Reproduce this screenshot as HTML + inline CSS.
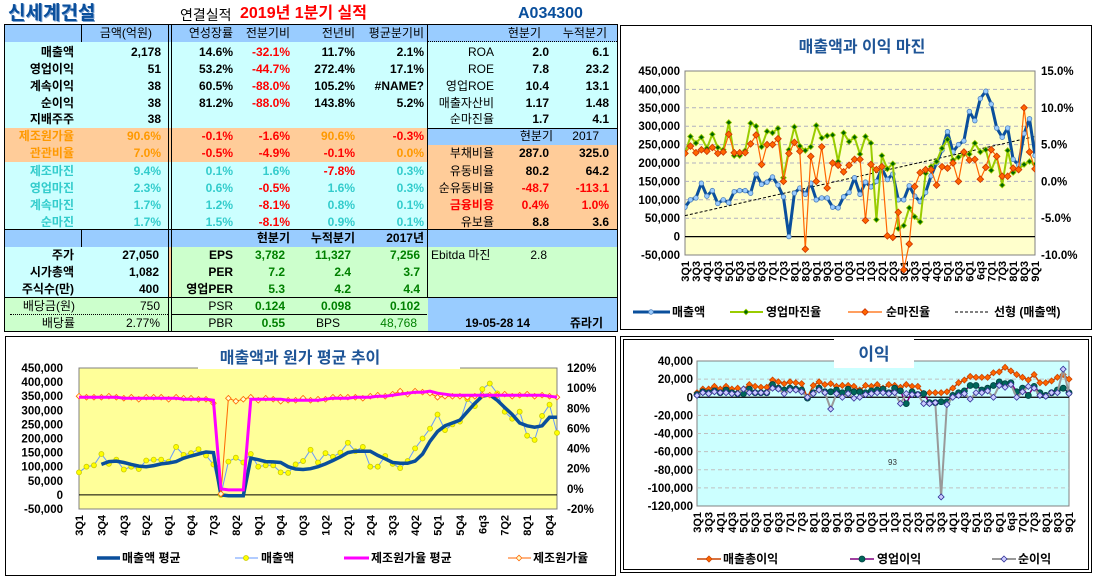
<!DOCTYPE html>
<html><head><meta charset="utf-8">
<style>
body{margin:0;width:1094px;height:576px;overflow:hidden;background:#fff;position:relative;font-family:"Liberation Sans","Noto Sans CJK KR",sans-serif}
.bg{position:absolute}
.t{position:absolute;font-weight:bold;font-size:12px;line-height:14px;white-space:nowrap;color:#000}
.r{text-align:right}
.red{color:#ff0000}.or{color:#ff9900}.tl{color:#33cccc}.gr{color:#008000}.nb{font-weight:normal}
svg text{font-family:"Liberation Sans","Noto Sans CJK KR",sans-serif}
</style></head><body>
<div id="table">
<div class="bg" style="left:4px;top:25px;width:614px;height:17px;background:#99ccff"></div>
<div class="bg" style="left:4px;top:42px;width:614px;height:86px;background:#ccffff"></div>
<div class="bg" style="left:4px;top:128px;width:424px;height:34px;background:#ffcc99"></div>
<div class="bg" style="left:428px;top:128px;width:190px;height:17px;background:#99ccff"></div>
<div class="bg" style="left:428px;top:145px;width:190px;height:85px;background:#ffcc99"></div>
<div class="bg" style="left:4px;top:162px;width:424px;height:68px;background:#ccffff"></div>
<div class="bg" style="left:4px;top:230px;width:614px;height:17px;background:#99ccff"></div>
<div class="bg" style="left:4px;top:247px;width:165px;height:51px;background:#ccffff"></div>
<div class="bg" style="left:169px;top:247px;width:3px;height:51px;background:#ffcc99"></div>
<div class="bg" style="left:172px;top:247px;width:446px;height:51px;background:#ccffcc"></div>
<div class="bg" style="left:4px;top:298px;width:424px;height:34px;background:#ccffcc"></div>
<div class="bg" style="left:428px;top:298px;width:190px;height:34px;background:#99ccff"></div>
<div class="bg" style="left:4px;top:24px;width:614px;height:1px;background:#000"></div>
<div class="bg" style="left:4px;top:24px;width:1px;height:308px;background:#000"></div>
<div class="bg" style="left:617px;top:24px;width:1px;height:308px;background:#000"></div>
<div class="bg" style="left:4px;top:331px;width:614px;height:1px;background:#000"></div>
<div class="bg" style="left:81px;top:25px;width:1px;height:17px;background:#000"></div>
<div class="bg" style="left:81px;top:230px;width:1px;height:17px;background:#000"></div>
<div class="bg" style="left:168px;top:25px;width:1px;height:306px;background:#000"></div>
<div class="bg" style="left:171px;top:25px;width:1px;height:306px;background:#000"></div>
<div class="bg" style="left:427px;top:25px;width:1px;height:273px;background:#000"></div>
<div class="bg" style="left:428px;top:41px;width:189px;height:0;border-top:1px dotted #000"></div>
<div class="bg" style="left:428px;top:128px;width:189px;height:1px;background:#000"></div>
<div class="bg" style="left:4px;top:229px;width:614px;height:1px;background:#000"></div>
<div class="bg" style="left:4px;top:297px;width:614px;height:1px;background:#000"></div>
<div class="bg" style="left:10px;top:314px;width:158px;height:0;border-top:1px dotted #000"></div>
<div class="bg" style="left:172px;top:314px;width:255px;height:1px;background:#000"></div>

<div class="t" style="left:8px;top:3px;font-size:19px;line-height:22px;color:#0a4f9c;text-shadow:1px 1px 0 #7aa0d0">신세계건설</div>
<div class="t nb" style="left:180px;top:7px;font-size:14px;line-height:16px">연결실적</div>
<div class="t red" style="left:240px;top:5px;font-size:16px;line-height:18px">2019년 1분기 실적</div>
<div class="t" style="left:518px;top:5px;font-size:16px;line-height:18px;color:#0a4f9c">A034300</div>

<div id="cells"></div>
</div>

<svg id="c1" style="position:absolute;left:620px;top:25px" width="474" height="306"></svg>
<svg id="c2" style="position:absolute;left:0;top:335px" width="618" height="241"></svg>
<svg id="c3" style="position:absolute;left:618px;top:335px" width="476" height="241"></svg>

<script>
const rowsY=[33,52,69,86,103,119,136,153,171,188,205,222,238,255,272,289,306,323];
const cellsDef=[
[0,152,'금액(억원)','nb'],[0,233,'연성장률','nb'],[0,290,'전분기비','nb'],[0,355,'전년비','nb'],[0,424,'평균분기비','nb'],[0,541,'현분기','nb'],[0,607,'누적분기','nb'],
[1,74,'매출액',''],[1,161,'2,178',''],[1,233,'14.6%',''],[1,290,'-32.1%','red'],[1,355,'11.7%',''],[1,424,'2.1%',''],[1,494,'ROA','nb'],[1,549,'2.0',''],[1,609,'6.1',''],
[2,74,'영업이익',''],[2,161,'51',''],[2,233,'53.2%',''],[2,290,'-44.7%','red'],[2,355,'272.4%',''],[2,424,'17.1%',''],[2,494,'ROE','nb'],[2,549,'7.8',''],[2,609,'23.2',''],
[3,74,'계속이익',''],[3,161,'38',''],[3,233,'60.5%',''],[3,290,'-88.0%','red'],[3,355,'105.2%',''],[3,424,'#NAME?',''],[3,494,'영업ROE','nb'],[3,549,'10.4',''],[3,609,'13.1',''],
[4,74,'순이익',''],[4,161,'38',''],[4,233,'81.2%',''],[4,290,'-88.0%','red'],[4,355,'143.8%',''],[4,424,'5.2%',''],[4,494,'매출자산비','nb'],[4,549,'1.17',''],[4,609,'1.48',''],
[5,74,'지배주주',''],[5,161,'38',''],[5,494,'순마진율','nb'],[5,549,'1.7',''],[5,609,'4.1',''],
[6,74,'제조원가율','or'],[6,161,'90.6%','or'],[6,233,'-0.1%','red'],[6,290,'-1.6%','red'],[6,355,'90.6%','or'],[6,424,'-0.3%','red'],[6,553,'현분기','nb'],[6,599,'2017','nb'],
[7,74,'관관비율','or'],[7,161,'7.0%','or'],[7,233,'-0.5%','red'],[7,290,'-4.9%','red'],[7,355,'-0.1%','red'],[7,424,'0.0%','or'],[7,494,'부채비율','nb'],[7,549,'287.0',''],[7,609,'325.0',''],
[8,74,'제조마진','tl'],[8,161,'9.4%','tl'],[8,233,'0.1%','tl'],[8,290,'1.6%','tl'],[8,355,'-7.8%','red'],[8,424,'0.3%','tl'],[8,494,'유동비율','nb'],[8,549,'80.2',''],[8,609,'64.2',''],
[9,74,'영업마진','tl'],[9,161,'2.3%','tl'],[9,233,'0.6%','tl'],[9,290,'-0.5%','red'],[9,355,'1.6%','tl'],[9,424,'0.3%','tl'],[9,494,'순유동비율','nb'],[9,549,'-48.7','red'],[9,609,'-113.1','red'],
[10,74,'계속마진','tl'],[10,161,'1.7%','tl'],[10,233,'1.2%','tl'],[10,290,'-8.1%','red'],[10,355,'0.8%','tl'],[10,424,'0.1%','tl'],[10,494,'금융비용','red'],[10,549,'0.4%','red'],[10,609,'1.0%','red'],
[11,74,'순마진','tl'],[11,161,'1.7%','tl'],[11,233,'1.5%','tl'],[11,290,'-8.1%','red'],[11,355,'0.9%','tl'],[11,424,'0.1%','tl'],[11,494,'유보율','nb'],[11,549,'8.8',''],[11,609,'3.6',''],
[12,290,'현분기',''],[12,355,'누적분기',''],[12,424,'2017년',''],
[13,74,'주가',''],[13,159,'27,050',''],[13,233,'EPS',''],[13,285,'3,782','gr'],[13,351,'11,327','gr'],[13,420,'7,256','gr'],[13,547,'2.8','nb'],
[14,74,'시가총액',''],[14,159,'1,082',''],[14,233,'PER',''],[14,285,'7.2','gr'],[14,351,'2.4','gr'],[14,420,'3.7','gr'],
[15,74,'주식수(만)',''],[15,159,'400',''],[15,233,'영업PER',''],[15,285,'5.3','gr'],[15,351,'4.2','gr'],[15,420,'4.4','gr'],
[16,75,'배당금(원)','nb'],[16,160,'750','nb'],[16,233,'PSR','nb'],[16,285,'0.124','gr'],[16,351,'0.098','gr'],[16,420,'0.102','gr'],
[17,75,'배당률','nb'],[17,160,'2.77%','nb'],[17,233,'PBR','nb'],[17,285,'0.55','gr'],[17,417,'48,768','gr nb'],[17,530,'19-05-28 14',''],[17,603,'쥬라기','']
];
const cells=document.getElementById('cells');
cellsDef.forEach(c=>{
  const d=document.createElement('div');
  d.className='t r '+c[3];
  d.style.left=(c[1]-150)+'px';d.style.width='150px';d.style.top=(rowsY[c[0]]-7)+'px';
  d.textContent=c[2];
  
  
  cells.appendChild(d);
});
[[431,255,'Ebitda 마진','nb'],[316,323,'BPS','nb']].forEach(c=>{
  const d=document.createElement('div');
  d.className='t '+c[3];d.style.left=c[0]+'px';d.style.top=(c[1]-7)+'px';d.textContent=c[2];
  
  
  cells.appendChild(d);
});

const labels1=['3Q1','3Q3','4Q1','4Q3','5Q1','5Q3','6Q1','6Q3','7Q1','7Q3','8Q1','8Q3','9Q1','9Q3','0Q1','0Q3','1Q1','1Q3','2Q1','2Q3','3Q1','3Q3','4Q1','4Q3','5Q1','5Q3','6Q1','6q3','7Q1','7Q3','8Q1','8Q3','9Q1'];
const labels2=['3Q1','3Q4','4Q3','5Q2','6Q1','6Q4','7Q3','8Q2','9Q1','9Q4','0Q3','1Q2','2Q1','2Q4','3Q3','4Q2','5Q1','5Q4','6q3','7Q2','8Q1','8Q4'];
const revenue=[80,100,105,145,110,125,90,100,92,122,125,125,118,170,142,148,162,140,108,0,118,132,115,145,100,105,105,80,78,108,120,160,115,148,135,150,185,155,170,100,100,138,110,95,120,165,200,235,285,230,250,260,340,315,375,395,360,295,270,295,210,195,280,320,220];
const opMargin=[3.8,6.1,5.2,6.0,4.5,6.4,4.6,4.3,8.0,3.5,3.5,4.2,7.9,7.5,4.7,6.8,6.6,7.2,0.5,4.3,7.4,4.8,4.2,4.7,7.6,5.9,6.2,6.3,2.7,6.6,5.4,6.0,3.7,6.1,5.2,-5.2,3.5,1.7,2.4,-6.4,-6.0,-3.6,-4.8,-5.5,1.1,2.0,2.7,4.5,5.7,2.9,3.3,3.7,3.7,5.2,4.0,4.3,1.5,3.4,-0.5,4.2,1.2,1.7,2.3,2.7,2.3];
const netMargin=[3.8,4.8,3.9,4.3,4.1,4.6,3.8,4.0,6.4,3.9,3.9,3.9,5.1,6.3,2.3,5.0,5.0,5.8,0.0,3.8,5.3,4.1,-9.2,3.4,0.0,4.7,-0.9,2.5,2.2,1.3,2.2,3.0,3.0,-5.3,2.3,1.6,2.0,-7.4,-7.6,-4.2,-12,-8.5,-0.7,1.2,1.6,1.6,-0.5,2.0,1.8,2.5,0.0,4.0,2.9,3.0,0.3,1.9,4.3,3.4,0.7,0.7,1.8,1.6,10.0,4.0,1.7];
const trendEnds=[57,272];
const revenueAvg=[null,null,null,108,118,120,115,108,102,100,104,110,113,118,130,138,145,152,150,0,-3,-3,-3,130,125,118,117,115,100,92,90,93,100,110,122,135,150,155,155,155,140,128,115,112,112,120,145,190,225,245,255,265,295,325,350,355,335,310,285,255,245,240,245,275,275];
const costAvg=[91,91,91,91,91,91,90,90,90,90,90,90,90,90,89,89,89,89,88,0,-1,-1,-1,89,89,89,89,89,88,88,88,88,88,89,90,90,90,91,91,91,92,92,93,94,95,96,96,97,95,94,93,93,93,93,93,93,93,93,93,93,93,93,93,92,91];
const costRatio=[92,91,91,91,92,91,90,91,89,91,91,91,89,91,90,90,89,89,85,-5,90,87,89,91,88,90,89,87,88,88,90,88,89,89,91,91,91,91,90,92,93,92,94,97,94,97,96,95,91,92,92,92,91,92,93,93,93,94,92,93,94,92,93,92,91];
const grossProfit=[5,9,9,12,9,12,9,10,9,14,12,11,11,19,17,15,17,16,15,0,13,17,14,15,12,13,13,12,8,13,12,14,10,14,13,11,14,12,12,4,5,5,5,6,10,16,19,23,22,22,22,27,28,33,29,25,22,19,25,16,16,18,22,25,20];
const opProfit=[3,6,5,7,5,8,5,4,4,9,5,5,5,14,10,8,10,9,8,-1,5,10,6,6,8,5,9,6,6,5,7,8,9,5,10,7,-7,6,3,4,-6,-6,-5,-5,2,5,7,13,13,8,10,13,17,15,16,6,10,2,12,5,2,5,8,10,5];
const netProfit=[2,5,4,6,5,5,4,4,9,5,5,5,5,10,9,4,8,8,6,0,4,8,5,-13,4,0,4,-1,0,3,4,5,5,4,5,-7,4,3,3,-7,-7,-6,-110,-8,0,2,4,-2,5,5,7,0,13,11,14,0,6,12,10,2,1,5,5,31,4];
const ticks1L=[450000,400000,350000,300000,250000,200000,150000,100000,50000,0,-50000];
const ticks1R=[15,10,5,0,-5,-10];
const ticks2R=[120,100,80,60,40,20,0,-20];
const ticks3=[40000,20000,0,-20000,-40000,-60000,-80000,-100000,-120000];

const NS='http://www.w3.org/2000/svg';
function el(parent,tag,attrs){const e=document.createElementNS(NS,tag);for(const k in attrs)e.setAttribute(k,attrs[k]);parent.appendChild(e);return e;}
function fmt(v){return v.toLocaleString('en-US');}
function pathFrom(vals,xf,yf){let d='',pen=false;vals.forEach((v,i)=>{if(v===null){pen=false;return;}d+=(pen?'L':'M')+xf(i).toFixed(1)+' '+yf(v).toFixed(1);pen=true;});return d;}
function marker(g,type,x,y,r,fill,stroke){
  let m;
  if(type==='d') m=el(g,'path',{d:`M${x} ${y-r}L${x+r} ${y}L${x} ${y+r}L${x-r} ${y}Z`,fill:fill,stroke:stroke,'stroke-width':0.8});
  else m=el(g,'circle',{cx:x,cy:y,r:r,fill:fill,stroke:stroke,'stroke-width':0.8});
  return m;
}
function frame(svg,w,h){const f=el(svg,'rect',{x:0.5,y:0.5,width:w-1,height:h-1,fill:'#fff',stroke:'#000','stroke-width':1});
  
  }

(function(){
const svg=document.getElementById('c1');
frame(svg,472,305);
const X0=65,X1=415,Y0=46,Y1=230;
const n=revenue.length;
const x=i=>X0+i*(X1-X0)/(n-1);
const yL=v=>Y0+(450000-v)/500000*(Y1-Y0);
const yR=v=>Y0+(15-v)/25*(Y1-Y0);
const t=el(svg,'text',{x:242,y:27,'text-anchor':'middle','font-size':16,'font-weight':'bold',fill:'#1f5597'});t.textContent='매출액과 이익 마진';


const pa=el(svg,'rect',{x:X0,y:Y0,width:X1-X0,height:Y1-Y0,fill:'#ffffcc',stroke:'#808080'});


ticks1L.forEach(v=>{
  if(v!==450000&&v!==-50000){const gl=el(svg,'line',{x1:X0,x2:X1,y1:yL(v),y2:yL(v),stroke:v===0?'#000':'#b0b0c0','stroke-dasharray':v===0?'':'4 3','stroke-width':v===0?1.2:1});
  
  }
  const tx=el(svg,'text',{x:X0-5,y:yL(v)+4,'text-anchor':'end','font-size':11.5,'font-weight':'bold'});tx.textContent=fmt(v);
  
  
});
ticks1R.forEach(v=>{const tx=el(svg,'text',{x:X1+6,y:yR(v)+4,'font-size':11.5,'font-weight':'bold'});tx.textContent=v.toFixed(1)+'%';
  
  });
labels1.forEach((l,k)=>{const xi=x(k*2)+4;const tx=el(svg,'text',{transform:`translate(${xi},${Y1+6}) rotate(-90)`,'text-anchor':'end','font-size':11,'font-weight':'bold'});tx.textContent=l;
  
  });
const tr=el(svg,'line',{x1:x(0),y1:yL(trendEnds[0]*1000),x2:x(n-1),y2:yL(trendEnds[1]*1000),stroke:'#000','stroke-dasharray':'3 2','stroke-width':1});


const clip=el(svg,'clipPath',{id:'cp1'});el(clip,'rect',{x:X0,y:Y0,width:X1-X0,height:Y1-Y0+20});
const g=el(svg,'g',{'clip-path':'url(#cp1)'});
const l1=el(g,'path',{d:pathFrom(revenue,x,v=>yL(v*1000)),fill:'none',stroke:'#0a4f9c','stroke-width':3,'stroke-linejoin':'round'});


revenue.forEach((v,i)=>{const m=marker(g,'c',x(i),yL(v*1000),2.3,'#99ccff','#4f81bd');
  
  });
const l2=el(g,'path',{d:pathFrom(opMargin,x,yR),fill:'none',stroke:'#99cc00','stroke-width':2});


opMargin.forEach((v,i)=>{const m=marker(g,'d',x(i),yR(v),2.8,'#006600','#99cc00');
  
  });
const l3=el(g,'path',{d:pathFrom(netMargin,x,yR),fill:'none',stroke:'#ff6600','stroke-width':1.2});


netMargin.forEach((v,i)=>{const m=marker(g,'d',x(i),yR(v),3.3,'#ff6600','#cc3300');
  
  });
const lg=el(svg,'g',{});


el(lg,'line',{x1:13,x2:50,y1:287,y2:287,stroke:'#0a4f9c','stroke-width':3});marker(lg,'c',31,287,2.3,'#99ccff','#4f81bd');
let tt=el(lg,'text',{x:52,y:291,'font-size':12,'font-weight':'bold'});tt.textContent='매출액';
el(lg,'line',{x1:110,x2:143,y1:287,y2:287,stroke:'#99cc00','stroke-width':2});marker(lg,'d',126,287,2.8,'#006600','#99cc00');
tt=el(lg,'text',{x:146,y:291,'font-size':12,'font-weight':'bold'});tt.textContent='영업마진율';
el(lg,'line',{x1:228,x2:262,y1:287,y2:287,stroke:'#ff6600','stroke-width':1.2});marker(lg,'d',245,287,3.3,'#ff6600','#cc3300');
tt=el(lg,'text',{x:266,y:291,'font-size':12,'font-weight':'bold'});tt.textContent='순마진율';
el(lg,'line',{x1:335,x2:368,y1:287,y2:287,stroke:'#000','stroke-dasharray':'3 2'});
tt=el(lg,'text',{x:374,y:291,'font-size':12,'font-weight':'bold'});tt.textContent='선형 (매출액)';
})();

(function(){
const svg=document.getElementById('c2');
el(svg,'rect',{x:5.5,y:1.5,width:610,height:239,fill:'#fff',stroke:'#000'});
const X0=79,X1=557,Y0=368-335,Y1=509-335;
const n=revenue.length;
const x=i=>X0+i*(X1-X0)/(n-1);
const yL=v=>Y0+(450000-v)/500000*(Y1-Y0);
const yR=v=>Y0+(120-v)/140*(Y1-Y0);
const pa=el(svg,'rect',{x:X0,y:Y0,width:X1-X0,height:Y1-Y0,fill:'#ffff99',stroke:'#808080'});


el(svg,'rect',{x:198,y:8,width:262,height:26,fill:'#fff'});
const t=el(svg,'text',{x:300,y:28,'text-anchor':'middle','font-size':16,'font-weight':'bold',fill:'#1f5597'});t.textContent='매출액과 원가 평균 추이';


ticks1L.forEach(v=>{
  if(v===0){const zl=el(svg,'line',{x1:X0,x2:X1,y1:yL(0),y2:yL(0),stroke:'#000'});
  
  }
  const tx=el(svg,'text',{x:X0-16,y:yL(v)+4,'text-anchor':'end','font-size':11.5,'font-weight':'bold'});tx.textContent=fmt(v);
  
  
});
ticks2R.forEach(v=>{const tx=el(svg,'text',{x:X1+10,y:yR(v)+4,'font-size':11.5,'font-weight':'bold'});tx.textContent=v+'%';
  
  });
labels2.forEach((l,k)=>{const xi=x(k*3)+4;const tx=el(svg,'text',{transform:`translate(${xi},${Y1+6}) rotate(-90)`,'text-anchor':'end','font-size':11,'font-weight':'bold'});tx.textContent=l;
  
  });
const l2=el(svg,'path',{d:pathFrom(revenue,x,v=>yL(v*1000)),fill:'none',stroke:'#6699ff','stroke-width':1});


revenue.forEach((v,i)=>{const m=marker(svg,'c',x(i),yL(v*1000),2.5,'#ffff00','#cccc00');
  
  });
const l1=el(svg,'path',{d:pathFrom(revenueAvg,x,v=>yL(v*1000)),fill:'none',stroke:'#0a4f9c','stroke-width':3.5});


const l4=el(svg,'path',{d:pathFrom(costRatio,x,yR),fill:'none',stroke:'#ff6600','stroke-width':1});


costRatio.forEach((v,i)=>{const m=marker(svg,'d',x(i),yR(v),2.8,'#ffffcc','#ff6600');
  
  });
const l3=el(svg,'path',{d:pathFrom(costAvg,x,yR),fill:'none',stroke:'#ff00ff','stroke-width':3});


const lg=el(svg,'g',{});


el(lg,'line',{x1:97,x2:120,y1:223,y2:223,stroke:'#0a4f9c','stroke-width':3.5});
let tt=el(lg,'text',{x:122,y:227,'font-size':12,'font-weight':'bold'});tt.textContent='매출액 평균';
el(lg,'line',{x1:235,x2:258,y1:223,y2:223,stroke:'#6699ff'});marker(lg,'c',246,223,2.5,'#ffff00','#cccc00');
tt=el(lg,'text',{x:261,y:227,'font-size':12,'font-weight':'bold'});tt.textContent='매출액';
el(lg,'line',{x1:344,x2:369,y1:223,y2:223,stroke:'#ff00ff','stroke-width':3});
tt=el(lg,'text',{x:371,y:227,'font-size':12,'font-weight':'bold'});tt.textContent='제조원가율 평균';
el(lg,'line',{x1:508,x2:531,y1:223,y2:223,stroke:'#ff6600'});marker(lg,'d',519,223,2.8,'#ffffcc','#ff6600');
tt=el(lg,'text',{x:533,y:227,'font-size':12,'font-weight':'bold'});tt.textContent='제조원가율';
})();

(function(){
const svg=document.getElementById('c3');
el(svg,'rect',{x:2.5,y:1.5,width:471,height:236,fill:'#fff',stroke:'#000'});
el(svg,'rect',{x:5.5,y:4.5,width:465,height:230,fill:'none',stroke:'#000'});
const X0=79,X1=451,Y0=26,Y1=171;
const n=grossProfit.length;
const x=i=>X0+i*(X1-X0)/(n-1);
const y=v=>Y0+(40000-v)/160000*(Y1-Y0);
const pa=el(svg,'rect',{x:X0,y:Y0,width:X1-X0,height:Y1-Y0,fill:'#ccffff',stroke:'#808080'});


el(svg,'rect',{x:216,y:2,width:80,height:31,fill:'#fff'});
const t=el(svg,'text',{x:256,y:25,'text-anchor':'middle','font-size':17,'font-weight':'bold',fill:'#1f5597'});t.textContent='이익';


ticks3.forEach(v=>{
  if(v!==40000&&v!==-120000){const gl=el(svg,'line',{x1:X0,x2:X1,y1:y(v),y2:y(v),stroke:v===0?'#000':'#c0c0c0','stroke-dasharray':v===0?'':'4 3','stroke-width':v===0?1.2:1});
  
  }
  const tx=el(svg,'text',{x:X0-4,y:y(v)+4,'text-anchor':'end','font-size':11.5,'font-weight':'bold'});tx.textContent=fmt(v);
  
  
});
labels1.forEach((l,k)=>{const xi=x(k*2)+4;const tx=el(svg,'text',{transform:`translate(${xi},${Y1+6}) rotate(-90)`,'text-anchor':'end','font-size':11,'font-weight':'bold'});tx.textContent=l;
  
  });
const s93=el(svg,'text',{x:270,y:130,'font-size':8,fill:'#333'});s93.textContent='93';
const l1=el(svg,'path',{d:pathFrom(grossProfit,x,v=>y(v*1000)),fill:'none',stroke:'#cc4400','stroke-width':1.5});


grossProfit.forEach((v,i)=>{const m=marker(svg,'d',x(i),y(v*1000),3,'#ff6600','#cc4400');
  
  });
const l2=el(svg,'path',{d:pathFrom(opProfit,x,v=>y(v*1000)),fill:'none',stroke:'#800080','stroke-width':1.5});


opProfit.forEach((v,i)=>{const m=marker(svg,'c',x(i),y(v*1000),3,'#00665a','#004040');
  
  });
const l3=el(svg,'path',{d:pathFrom(netProfit,x,v=>y(v*1000)),fill:'none',stroke:'#999999','stroke-width':2});


netProfit.forEach((v,i)=>{const m=marker(svg,'d',x(i),y(v*1000),3,'#ccccff','#333399');
  
  });
const lg=el(svg,'g',{});


el(lg,'line',{x1:79,x2:103,y1:224,y2:224,stroke:'#cc4400','stroke-width':1.5});marker(lg,'d',91,224,3,'#ff6600','#cc4400');
let tt=el(lg,'text',{x:105,y:228,'font-size':12,'font-weight':'bold'});tt.textContent='매출총이익';
el(lg,'line',{x1:232,x2:256,y1:224,y2:224,stroke:'#800080','stroke-width':1.5});marker(lg,'c',244,224,3,'#00665a','#004040');
tt=el(lg,'text',{x:259,y:228,'font-size':12,'font-weight':'bold'});tt.textContent='영업이익';
el(lg,'line',{x1:374,x2:398,y1:224,y2:224,stroke:'#999','stroke-width':2});marker(lg,'d',386,224,3,'#ccccff','#333399');
tt=el(lg,'text',{x:400,y:228,'font-size':12,'font-weight':'bold'});tt.textContent='순이익';
})();
</script>
</body></html>
